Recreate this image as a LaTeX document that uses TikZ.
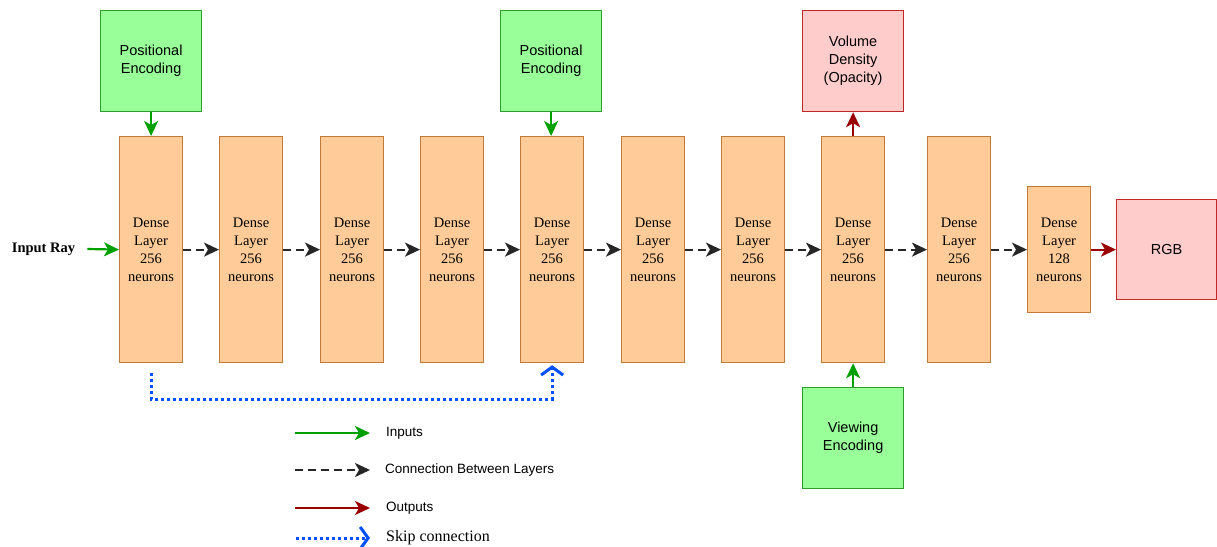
\documentclass[tikz,border=0pt]{standalone}
\usepackage{fontspec}
\setmainfont{Liberation Serif}
\newfontfamily\arialf{Liberation Sans}
\usetikzlibrary{arrows.meta,calc}
\definecolor{layerfill}{HTML}{FFCC99}
\definecolor{layerline}{HTML}{C07A3A}
\definecolor{encfill}{HTML}{99FF99}
\definecolor{encline}{HTML}{2E9E2E}
\definecolor{outfill}{HTML}{FFCCCC}
\definecolor{outline}{HTML}{C02828}
\definecolor{ingreen}{HTML}{00A000}
\definecolor{outred}{HTML}{990000}
\definecolor{skipblue}{HTML}{0050FF}
\begin{document}
\begin{tikzpicture}[x=1pt,y=-1pt,
  layerbox/.style={draw=layerline, fill=layerfill, line width=1.2pt, minimum width=63pt, minimum height=226pt, inner sep=0pt, align=center, font=\fontsize{14.5}{18}\selectfont, anchor=north west},
  encbox/.style={draw=encline, fill=encfill, line width=1.2pt, minimum width=101pt, minimum height=101pt, inner sep=0pt, align=center, font=\arialf\fontsize{14.5}{18}\selectfont, anchor=north west},
  outbox/.style={draw=outline, fill=outfill, line width=1.2pt, minimum width=101pt, minimum height=101pt, inner sep=0pt, align=center, font=\arialf\fontsize{14.5}{18}\selectfont, anchor=north west},
  tip/.style={-{Stealth[length=15pt,width=14pt,inset=4pt]}},
  inarrow/.style={draw=ingreen, line width=2.2pt, tip},
  outarrow/.style={draw=outred, line width=2.2pt, tip},
  conn/.style={draw=black!85, line width=2.2pt, dash pattern=on 8pt off 5pt, tip},
  skipline/.style={draw=skipblue, line width=3pt, dash pattern=on 3pt off 3pt, -{Straight Barb[length=8pt,width=22pt,line width=3pt]}},
  legtext/.style={anchor=west, font=\arialf\fontsize{13.5}{16}\selectfont, inner sep=0pt}
]
\useasboundingbox (0,0) rectangle (1217,546);

% dense layers
\node[layerbox] (L1) at (119,136) {Dense\\Layer\\256\\neurons};
\node[layerbox] (L2) at (219,136) {Dense\\Layer\\256\\neurons};
\node[layerbox] (L3) at (320,136) {Dense\\Layer\\256\\neurons};
\node[layerbox] (L4) at (420,136) {Dense\\Layer\\256\\neurons};
\node[layerbox] (L5) at (520,136) {Dense\\Layer\\256\\neurons};
\node[layerbox] (L6) at (621,136) {Dense\\Layer\\256\\neurons};
\node[layerbox] (L7) at (721,136) {Dense\\Layer\\256\\neurons};
\node[layerbox] (L8) at (821,136) {Dense\\Layer\\256\\neurons};
\node[layerbox] (L9) at (927,136) {Dense\\Layer\\256\\neurons};
\node[layerbox, minimum height=126pt] (L10) at (1027,186) {Dense\\Layer\\128\\neurons};

% encodings and outputs
\node[encbox] (PE1) at (100,10) {Positional\\Encoding};
\node[encbox] (PE2) at (500,10) {Positional\\Encoding};
\node[encbox] (VE) at (802,387) {Viewing\\Encoding};
\node[outbox] (VD) at (802,10) {Volume\\Density\\(Opacity)};
\node[outbox, minimum width=100pt, minimum height=100pt] (RGB) at (1116,199) {RGB};

\node[font=\bfseries\fontsize{14.5}{18}\selectfont, inner sep=0pt] (inray) at (43.5,249) {Input Ray};

% connectors
\draw[inarrow] ($(inray.east)+(12,0)$) -- (L1.west);
\draw[inarrow] (PE1.south) -- (PE1.south |- L1.north);
\draw[inarrow] (PE2.south) -- (PE2.south |- L5.north);
\draw[inarrow] (VE.north) -- (VE.north |- L8.south);
\draw[outarrow] (VD.south |- L8.north) -- (VD.south);
\draw[outarrow] (L10.east) -- (RGB.west);

\draw[conn] (L1.east) -- (L2.west);
\draw[conn] (L2.east) -- (L3.west);
\draw[conn] (L3.east) -- (L4.west);
\draw[conn] (L4.east) -- (L5.west);
\draw[conn] (L5.east) -- (L6.west);
\draw[conn] (L6.east) -- (L7.west);
\draw[conn] (L7.east) -- (L8.west);
\draw[conn] (L8.east) -- (L9.west);
\draw[conn] (L9.east) -- (L10.west);

\coordinate (s0) at ($(L1.south)+(0,10)$);
\coordinate (s1) at ($(L1.south)+(0,36)$);
\coordinate (s2) at ($(L5.south)+(0,2)$);
\draw[skipline] (s0) -- (s1) -| (s2);

% legend
\coordinate (g1a) at (295,433); \coordinate (g1b) at (370,433);
\coordinate (g2a) at (295,470); \coordinate (g2b) at (370,470);
\coordinate (g3a) at (295,508); \coordinate (g3b) at (370,508);
\coordinate (g4a) at (296,538); \coordinate (g4b) at (370,538);
\draw[inarrow] (g1a) -- (g1b);
\draw[conn] (g2a) -- (g2b);
\draw[outarrow] (g3a) -- (g3b);
\draw[skipline] (g4a) -- (g4b);
\node[legtext] (t1) at (386,433) {Inputs};
\node[legtext] (t2) at (385,470) {Connection Between Layers};
\node[legtext] (t3) at (386,508) {Outputs};
\node[legtext, font=\fontsize{16}{18}\selectfont] (t4) at (386,538) {Skip connection};
\end{tikzpicture}
\end{document}
